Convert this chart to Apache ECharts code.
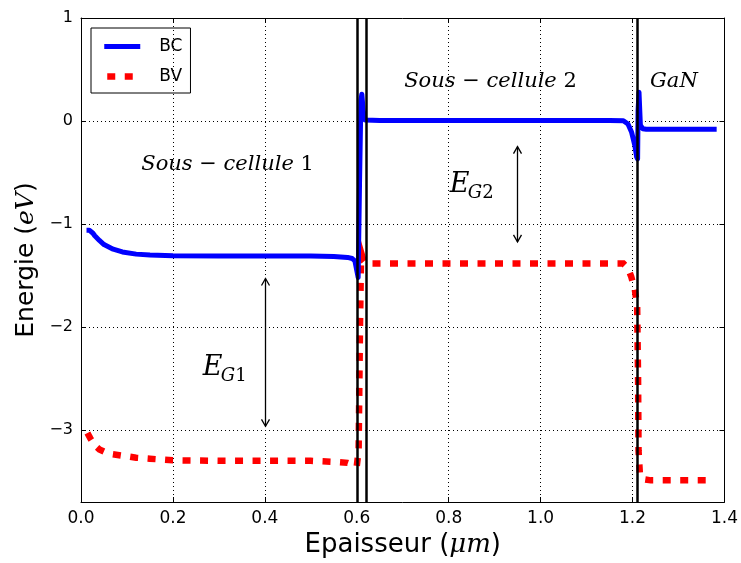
<!DOCTYPE html>
<html>
<head>
<meta charset="utf-8">
<script src="https://cdn.jsdelivr.net/npm/echarts@6/dist/echarts.min.js"></script>
<style>html,body{margin:0;padding:0;background:#fff}#c{width:741px;height:563px}</style>
</head>
<body>
<div id="c"></div>
<script>
// ---- data ----
const bcX = [0.012,0.018,0.022,0.026,0.03,0.04,0.05,0.07,0.09,0.12,0.15,0.2,0.3,0.4,0.5,0.55,0.58,0.59,0.596,0.603,0.606,0.609,0.611,0.614,0.618,0.65,0.8,1.0,1.15,1.18,1.19,1.198,1.205,1.209,1.211,1.212,1.214,1.217,1.222,1.23,1.3,1.383];
const bcY = [-1.06,-1.06,-1.07,-1.09,-1.115,-1.16,-1.2,-1.245,-1.272,-1.293,-1.302,-1.308,-1.31,-1.31,-1.31,-1.315,-1.325,-1.335,-1.36,-1.52,-0.6,0.2,0.26,0.1,0.01,0.005,0.005,0.005,0.005,0.002,-0.03,-0.11,-0.24,-0.35,-0.37,0.1,0.28,-0.04,-0.075,-0.08,-0.08,-0.08];
const bvX = [0.014,0.02,0.03,0.04,0.06,0.09,0.12,0.15,0.2,0.3,0.4,0.5,0.55,0.58,0.59,0.6,0.604,0.607,0.609,0.611,0.615,0.62,0.7,0.9,1.1,1.18,1.19,1.197,1.205,1.21,1.212,1.213,1.216,1.225,1.24,1.368];
const bvY = [-3.03,-3.08,-3.15,-3.19,-3.23,-3.25,-3.27,-3.28,-3.295,-3.3,-3.3,-3.3,-3.31,-3.32,-3.335,-3.35,-3.2,-2.0,-1.4,-1.30,-1.36,-1.385,-1.385,-1.385,-1.385,-1.385,-1.43,-1.51,-1.64,-1.8,-2.5,-3.2,-3.43,-3.48,-3.49,-3.49];
const interfaces = [0.597, 0.619, 1.209];
const xTicks = [0, 0.2, 0.4, 0.6, 0.8, 1.0, 1.2, 1.4];
const yTicks = [-3, -2, -1, 0, 1];
const arrows = [{x:0.4, y1:-1.53, y2:-2.965},{x:0.949, y1:-0.249, y2:-1.174}];
const labels = [
  {x:0.319, y:-0.426, parts:[['i','Sous'],['r',' − '],['i','cellule'],['r',' 1']]},
  {x:0.891, y:0.387, parts:[['i','Sous'],['r',' − '],['i','cellule'],['r',' 2']]},
  {x:1.290, y:0.387, parts:[['i','GaN']]}
];
const egLabels = [{x:0.265, y:-2.40, sub:'1'},{x:0.8025, y:-0.62, sub:'2'}];

const zip = (xs, ys) => xs.map((x, i) => [x, ys[i]]);
const minus = v => (v < 0 ? '−' + Math.abs(v) : String(v));
const serif = '"DejaVu Serif", serif';
const sans = '"DejaVu Sans", sans-serif';

const bcLine = {color: '#0000ff', width: 5, cap: 'butt', join: 'round'};
const bvLine = {color: '#ff0000', width: 6.5, type: [8, 9.5], cap: 'butt', join: 'miter'};

const chart = echarts.init(document.getElementById('c'));
const axCommon = {
  axisLine: {show: true, onZero: false, lineStyle: {color: '#000', width: 1}},
  axisTick: {show: true, inside: true, length: 5, lineStyle: {color: '#000', width: 1}},
};
chart.setOption({
  animation: false,
  backgroundColor: '#fff',
  grid: {left: 81, right: 15, top: 18, bottom: 59, containLabel: false},
  legend: {
    orient: 'vertical', left: 91, top: 28,
    data: [
      {name: 'BC', lineStyle: Object.assign({}, bcLine)},
      {name: 'BV', lineStyle: {color: '#ff0000', width: 6.5, type: [8, 9.5], cap: 'butt', dashOffset: 14.5}}
    ],
    itemWidth: 36, itemHeight: 14, itemGap: 13,
    padding: [10, 8, 8, 10],
    borderColor: '#000', borderWidth: 1, borderRadius: 0,
    itemStyle: {color: 'rgba(0,0,0,0)', borderWidth: 0, opacity: 0},
    textStyle: {fontFamily: sans, fontSize: 17, color: '#000', padding: [0, 0, 0, 14]}
  },
  xAxis: [
    Object.assign({}, axCommon, {
      type: 'value', position: 'bottom', min: 0, max: 1.4, interval: 0.2,
      axisTick: Object.assign({}, axCommon.axisTick, {customValues: xTicks}),
      axisLabel: {customValues: xTicks, formatter: v => v.toFixed(1), fontFamily: sans, fontSize: 17, color: '#000', margin: 8},
      splitLine: {show: true, lineStyle: {color: '#000', type: [1, 3], width: 1}},
      name: 'Epaisseur ({i|μm})', nameLocation: 'middle', nameGap: 30,
      nameTextStyle: {fontFamily: sans, fontSize: 26, color: '#000',
        rich: {i: {fontFamily: serif, fontStyle: 'italic', fontSize: 26, color: '#000'}}}
    }),
    Object.assign({}, axCommon, {
      type: 'value', position: 'top', min: 0, max: 1.4, interval: 0.2,
      axisTick: Object.assign({}, axCommon.axisTick, {customValues: xTicks}),
      axisLabel: {show: false}, splitLine: {show: false}
    })
  ],
  yAxis: [
    Object.assign({}, axCommon, {
      type: 'value', position: 'left', min: -3.7, max: 1,
      axisTick: Object.assign({}, axCommon.axisTick, {customValues: yTicks}),
      axisLabel: {customValues: yTicks, formatter: minus, fontFamily: sans, fontSize: 16, color: '#000', margin: 8},
      splitLine: {show: true, lineStyle: {color: '#000', type: [1, 3], width: 1}},
      name: 'Energie ({i|eV})', nameLocation: 'middle', nameGap: 40, nameRotate: 90,
      nameTextStyle: {fontFamily: sans, fontSize: 25, color: '#000',
        rich: {i: {fontFamily: serif, fontStyle: 'italic', fontSize: 25, color: '#000'}}}
    }),
    Object.assign({}, axCommon, {
      type: 'value', position: 'right', min: -3.7, max: 1,
      axisTick: Object.assign({}, axCommon.axisTick, {customValues: yTicks}),
      axisLabel: {show: false}, splitLine: {show: false}
    })
  ],
  series: [
    {
      name: 'BC', type: 'line', data: zip(bcX, bcY), symbol: 'none', showSymbol: false,
      lineStyle: bcLine,
      itemStyle: {color: '#0000ff'}, z: 3,
      markLine: {
        silent: true, symbol: 'none', label: {show: false},
        lineStyle: {color: '#000', type: 'solid', width: 2.5},
        data: interfaces.map(v => ({xAxis: v}))
      }
    },
    {
      name: 'BV', type: 'line', data: zip(bvX, bvY), symbol: 'none', showSymbol: false,
      lineStyle: bvLine,
      itemStyle: {color: '#ff0000'}, z: 2
    }
  ]
});

function px(x, y) { return chart.convertToPixel({xAxisIndex: 0, yAxisIndex: 0}, [x, y]); }
const gfx = [];
arrows.forEach(a => {
  const p1 = px(a.x, a.y1), p2 = px(a.x, a.y2);
  const x = Math.round(p1[0]) + 0.5;
  const st = {stroke: '#000', lineWidth: 1.3, fill: null};
  gfx.push({type: 'line', shape: {x1: x, y1: p1[1], x2: x, y2: p2[1]}, style: st, z: 10});
  gfx.push({type: 'polyline', shape: {points: [[x - 4, p1[1] + 7], [x, p1[1]], [x + 4, p1[1] + 7]]}, style: st, z: 10});
  gfx.push({type: 'polyline', shape: {points: [[x - 4, p2[1] - 7], [x, p2[1]], [x + 4, p2[1] - 7]]}, style: st, z: 10});
});
labels.forEach(l => {
  const p = px(l.x, l.y);
  const text = l.parts.map(q => '{' + q[0] + '|' + q[1] + '}').join('');
  gfx.push({type: 'text', x: p[0], y: p[1], z: 10, style: {
    text: text, align: 'center', verticalAlign: 'middle',
    rich: {
      i: {fontFamily: serif, fontStyle: 'italic', fontSize: 21, fill: '#000'},
      r: {fontFamily: serif, fontSize: 21, fill: '#000'}
    }
  }});
});
egLabels.forEach(l => {
  const p = px(l.x, l.y);
  gfx.push({type: 'text', x: p[0], y: p[1], z: 10, style: {
    text: 'E', fontFamily: serif, fontStyle: 'italic', fontSize: 27, fill: '#000', align: 'left', verticalAlign: 'middle'
  }});
  gfx.push({type: 'text', x: p[0] + 18, y: p[1] + 8.5, z: 10, style: {
    text: '{i|G}{r|' + l.sub + '}', align: 'left', verticalAlign: 'middle',
    rich: {
      i: {fontFamily: serif, fontStyle: 'italic', fontSize: 18, fill: '#000'},
      r: {fontFamily: serif, fontSize: 18, fill: '#000'}
    }
  }});
});
chart.setOption({graphic: gfx});
</script>
</body>
</html>
